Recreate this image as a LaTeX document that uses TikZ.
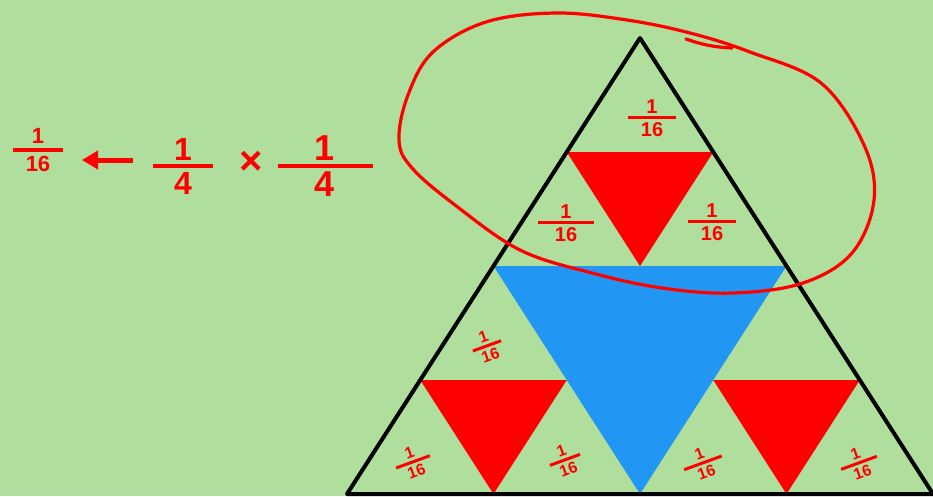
\documentclass[tikz,border=0pt]{standalone}
\usepackage{fontspec}
\setmainfont{Liberation Sans}
\usetikzlibrary{arrows.meta,calc}
\definecolor{bg}{RGB}{175,222,157}
\definecolor{sblue}{RGB}{33,150,243}
\definecolor{sred}{RGB}{255,0,0}
\newcommand\hfrac[4]{\ensuremath{{\hbox to #1{\hss\bfseries #3\hss}\above #2\hbox to #1{\hss\bfseries #4\hss}}}}
\tikzset{
  outline/.style={draw=black,line width=4pt,line join=round},
  redtri/.style={fill=sred},
  bluetri/.style={fill=sblue},
  lbl/.style={text=sred,inner sep=0pt},
  toplbl/.style={lbl,font=\fontsize{20}{24}\selectfont},
  botlbl/.style={lbl,font=\fontsize{16}{19}\selectfont,rotate=20},
  loop/.style={draw=sred,line width=3.2pt,line cap=round,line join=round},
  bigarrow/.style={draw=sred,line width=5pt,-{Triangle[length=16pt,width=18pt]}}
}
\begin{document}
\begin{tikzpicture}[x=1pt,y=-1pt]
\useasboundingbox[fill=bg] (0,0) rectangle (933,496);
% corners
\coordinate (A) at (640,38);
\coordinate (BL) at (347,494);
\coordinate (BR) at (933,494);
\coordinate (ML) at ($(A)!0.5!(BL)$);
\coordinate (MR) at ($(A)!0.5!(BR)$);
\coordinate (MB) at ($(BL)!0.5!(BR)$);
% blue middle
\fill[bluetri] (ML) -- (MR) -- (MB) -- cycle;
% red top
\fill[redtri] ($(A)!0.5!(ML)$) -- ($(A)!0.5!(MR)$) -- ($(ML)!0.5!(MR)$) -- cycle;
% red bottom left
\fill[redtri] ($(ML)!0.5!(BL)$) -- ($(ML)!0.5!(MB)$) -- ($(BL)!0.5!(MB)$) -- cycle;
% red bottom right
\fill[redtri] ($(MR)!0.5!(MB)$) -- ($(MR)!0.5!(BR)$) -- ($(MB)!0.5!(BR)$) -- cycle;
% outline
\draw[outline] (A) -- (BL) -- (BR) -- cycle;
% labels in top part
\node[toplbl] (l1) at (652,118) {\hfrac{48pt}{3pt}{1}{16}};
\node[toplbl] (l2) at (566,223) {\hfrac{56pt}{3pt}{1}{16}};
\node[toplbl] (l3) at (712,222) {\hfrac{48pt}{3pt}{1}{16}};
% labels in bottom part
\node[botlbl] (l4) at (487,346) {\hfrac{30pt}{3pt}{1}{16}};
\node[botlbl] (l5) at (413,462) {\hfrac{36pt}{3pt}{1}{16}};
\node[botlbl] (l6) at (565,460) {\hfrac{32pt}{3pt}{1}{16}};
\node[botlbl] (l7) at (703,463) {\hfrac{40pt}{3pt}{1}{16}};
\node[botlbl] (l8) at (859,463) {\hfrac{38pt}{3pt}{1}{16}};
% formula on the left
\node[lbl,font=\fontsize{22}{26}\selectfont] (r) at (38,150) {\hfrac{50pt}{4pt}{1}{16}};
\coordinate (arrS) at (133,160);
\coordinate (arrE) at (82,160);
\draw[bigarrow] (arrS) -- (arrE);
\node[lbl,font=\fontsize{32}{36}\selectfont] (f1) at (183,166) {\hfrac{60pt}{4pt}{1}{4}};
\node[lbl,font=\fontsize{40}{44}\selectfont\bfseries] (x) at (251,163) {×};
\node[lbl,font=\fontsize{36}{40}\selectfont] (f2) at (325,166) {\hfrac{95pt}{4pt}{1}{4}};
% hand-drawn loop
\draw[loop] plot[smooth cycle,tension=0.6] coordinates {
 (399,140) (408,95) (433,52) (486,22) (556,13) (627,20) (690,33) (750,52)
 (821,83) (864,145) (874,200) (852,253) (803,283) (733,293) (662,288)
 (592,273) (520,250) (455,205) (412,168)};
\coordinate (t1) at (686,39);
\coordinate (t2) at (732,48);
\draw[loop] (t1) to[bend right=8] (t2);
\end{tikzpicture}
\end{document}
